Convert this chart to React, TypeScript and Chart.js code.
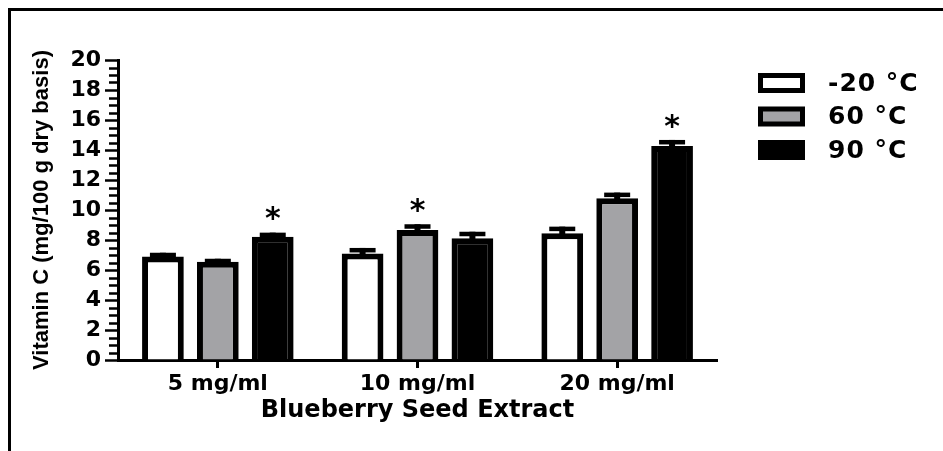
import React, { useEffect, useRef } from "react";
import { Chart, registerables } from "chart.js";

Chart.register(...registerables);

const categories = ["5 mg/ml", "10 mg/ml", "20 mg/ml"];
const seriesLabels = ["-20 °C", "60 °C", "90 °C"];
const minus20Values = [6.9, 7.1, 8.45];
const minus20Errors = [0.25, 0.37, 0.44];
const c60Values = [6.55, 8.67, 10.78];
const c60Errors = [0.2, 0.38, 0.38];
const c90Values = [8.22, 8.11, 14.27];
const c90Errors = [0.27, 0.44, 0.4];
const minus20Sig = [false, false, false];
const c60Sig = [false, true, false];
const c90Sig = [true, false, true];
const seriesColors = ["#ffffff", "#a3a3a6", "#000000"];
const yTitle = "Vitamin C (mg/100 g dry basis)";
const xTitle = "Blueberry Seed Extract";

const errorsBySeries = [minus20Errors, c60Errors, c90Errors];
const sigBySeries = [minus20Sig, c60Sig, c90Sig];

const framePlugin = {
  id: "frame",
  beforeDraw(chart: any) {
    const ctx = chart.ctx;
    ctx.save();
    ctx.fillStyle = "#ffffff";
    ctx.fillRect(0, 0, chart.width, chart.height);
    ctx.fillStyle = "#000000";
    ctx.fillRect(8, 8, chart.width - 8, 3);
    ctx.fillRect(8, 8, 3, chart.height - 8);
    ctx.restore();
  },
};

const yTicksPlugin = {
  id: "yTickMarks",
  afterDraw(chart: any) {
    const ctx = chart.ctx;
    const y = chart.scales.y;
    const axisX = chart.chartArea.left;
    ctx.save();
    ctx.strokeStyle = "#000";
    ctx.lineWidth = 2.5;
    y.ticks.forEach((t: any) => {
      const py = Math.round(y.getPixelForValue(t.value)) + 0.5;
      const major = Math.abs(t.value % 2) < 1e-6;
      const len = major ? 13 : 9;
      ctx.beginPath();
      ctx.moveTo(axisX - len, py);
      ctx.lineTo(axisX, py);
      ctx.stroke();
    });
    ctx.restore();
  },
};

const errorBarPlugin = {
  id: "errorBars",
  afterDatasetsDraw(chart: any) {
    const ctx = chart.ctx;
    const yScale = chart.scales.y;
    ctx.save();
    chart.data.datasets.forEach((ds: any, i: number) => {
      const meta = chart.getDatasetMeta(i);
      const errs = errorsBySeries[i];
      const sig = sigBySeries[i];
      meta.data.forEach((bar: any, j: number) => {
        const v = ds.data[j];
        const top = yScale.getPixelForValue(v + errs[j]);
        const base = yScale.getPixelForValue(v);
        ctx.fillStyle = "#000";
        ctx.fillRect(bar.x - 3, top, 6, base - top + 3);
        ctx.fillRect(bar.x - 13, top, 26, 4.5);
        if (sig[j]) {
          ctx.font = "bold 30px 'DejaVu Sans'";
          ctx.textAlign = "center";
          ctx.textBaseline = "middle";
          ctx.fillText("*", bar.x, top - 12);
        }
      });
    });
    ctx.restore();
  },
};

const legendPlugin = {
  id: "customLegend",
  afterDraw(chart: any) {
    const ctx = chart.ctx;
    ctx.save();
    chart.data.datasets.forEach((ds: any, i: number) => {
      const bx = 758;
      const by = 73 + i * 33.5;
      ctx.fillStyle = "#000";
      ctx.fillRect(bx, by, 47, 20);
      ctx.fillStyle = ds.backgroundColor;
      ctx.fillRect(bx + 5, by + 5, 37, 10);
      ctx.fillStyle = "#000";
      ctx.font = "bold 25px 'DejaVu Sans'";
      try {
        (ctx as any).letterSpacing = "1px";
      } catch (e) {}
      ctx.textAlign = "left";
      ctx.textBaseline = "middle";
      ctx.fillText(ds.label, 828, by + 11);
    });
    ctx.restore();
  },
};

export default function App() {
  const ref = useRef<HTMLCanvasElement>(null);
  useEffect(() => {
    document.body.style.margin = "0";
    const canvas = ref.current;
    if (!canvas) return;
    const values = [minus20Values, c60Values, c90Values];
    const chart = new Chart(canvas, {
      type: "bar",
      data: {
        labels: categories,
        datasets: seriesLabels.map((label, i) => ({
          label,
          data: values[i],
          backgroundColor: seriesColors[i],
          borderColor: "#000000",
          borderWidth: 6,
          borderSkipped: "start",
          categoryPercentage: 0.825,
          barPercentage: 0.76,
        })),
      },
      options: {
        animation: false,
        responsive: false,
        devicePixelRatio: 1,
        layout: { padding: { top: 60, right: 226, bottom: 0, left: 0 } },
        plugins: {
          legend: { display: false },
          tooltip: { enabled: false },
        },
        scales: {
          x: {
            afterFit: (s: any) => {
              s.height = 91;
            },
            grid: {
              display: true,
              drawOnChartArea: false,
              offset: false,
              tickLength: 8,
              tickWidth: 3,
              tickColor: "#000",
            },
            border: { display: true, color: "#000", width: 3 },
            ticks: {
              color: "#000",
              padding: 3,
              font: { family: "'DejaVu Sans'", weight: "bold", size: 22 },
            },
            title: {
              display: true,
              text: xTitle,
              color: "#000",
              padding: { top: 0, bottom: 26 },
              font: { family: "'DejaVu Sans'", weight: "bold", size: 24 },
            },
          },
          y: {
            min: 0,
            max: 20,
            afterFit: (s: any) => {
              s.width = 118;
            },
            grid: {
              display: true,
              drawOnChartArea: false,
              tickLength: 12,
              tickColor: "rgba(0,0,0,0)",
            },
            border: { display: true, color: "#000", width: 3 },
            ticks: {
              stepSize: 0.5,
              autoSkip: false,
              color: "#000",
              padding: 5,
              font: { family: "'DejaVu Sans'", weight: "bold", size: 22 },
              callback: (v: any) => (Math.abs(Number(v) % 2) < 1e-6 ? String(v) : ""),
            },
            title: {
              display: true,
              text: yTitle,
              color: "#000",
              padding: { top: 29, bottom: 0 },
              font: { family: "'Liberation Sans'", weight: "bold", size: 22 },
            },
          },
        },
      },
      plugins: [framePlugin, yTicksPlugin, errorBarPlugin, legendPlugin],
    } as any);
    return () => chart.destroy();
  }, []);
  return (
    <div style={{ width: 943, height: 451 }}>
      <canvas ref={ref} width={943} height={451} style={{ display: "block" }} />
    </div>
  );
}
